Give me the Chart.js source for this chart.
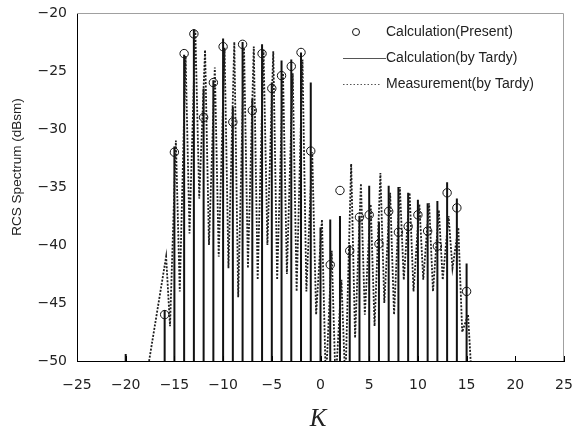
<!DOCTYPE html>
<html>
<head>
<meta charset="utf-8">
<script src="https://cdn.jsdelivr.net/npm/chart.js@4/dist/chart.umd.min.js"></script>
<style>
  html, body { margin: 0; padding: 0; background: #fff; }
  canvas { display: block; }
</style>
</head>
<body>
<canvas id="rcsChart" width="574" height="430"></canvas>
<script>
// === DATA ===
const kValues = [-16, -15, -14, -13, -12, -11, -10, -9, -8, -7, -6, -5, -4, -3, -2, -1,
                 0, 1, 2, 3, 4, 5, 6, 7, 8, 9, 10, 11, 12, 13, 14, 15];

// Calculation (Present) - circles, K = 0 lies below the axis
const presentDb = [-46.0, -32.0, -23.5, -21.8, -29.0, -26.0, -22.9, -29.4, -22.7, -28.4, -23.5, -26.5, -25.4, -24.6, -23.4, -31.9,
                   null, -41.7, -35.3, -40.5, -37.6, -37.4, -39.9, -37.1, -38.9, -38.4, -37.4, -38.8, -40.1, -35.5, -36.8, -44.0];

// Calculation (by Tardy) - solid spikes
const tardyK  = [-20, -16, -15, -14, -13, -12, -11, -10, -9, -8, -7, -6, -5, -4, -3, -2, -1,
                 0, 1, 2, 3, 4, 5, 6, 7, 8, 9, 10, 11, 12, 13, 14, 15];
const tardyDb = [-49.4, -45.6, -31.5, -23.6, -21.4, -26.5, -25.8, -22.2, -28.1, -22.5, -27.4, -22.7, -26.0, -24.1, -24.0, -23.4, -26.0,
                 -38.5, -37.8, -37.5, -40.0, -37.5, -34.9, -38.0, -34.9, -35.0, -35.5, -36.1, -36.4, -36.2, -34.6, -36.0, -41.6];

// Measurement (by Tardy) - dotted trace: a peak just right of each K, then a valley
const measStart = [-17.6, -50];
const measPeakDb   = [-41.0, -31.0, -23.7, -21.5, -23.2, -24.7, -23.0, -22.5, -23.0, -22.9, -23.2, -23.3, -25.2, -25.2, -24.0, -32.0,
                      -37.8, -40.5, -43.0, -33.0, -34.7, -36.5, -33.8, -35.5, -35.0, -35.5, -36.5, -36.4, -37.0, -37.5, -38.5, -46.0];
const measValleyDb = [-47.0, -44.0, -39.0, -36.0, -40.0, -41.0, -42.0, -44.5, -42.0, -43.0, -40.0, -43.0, -42.5, -44.0, -44.0, -46.0,
                      -52.0, -52.0, -52.0, -48.0, -46.0, -47.0, -45.0, -46.0, -43.0, -44.0, -43.0, -44.0, -43.0, -42.0, -47.5, -52.0];
const measPeakShift = 0.15;   // peak sits slightly right of K
const measValleyShift = 0.55; // valley before next rise

const xTicks = [-25, -20, -15, -10, -5, 0, 5, 10, 15, 20, 25];
const yTicks = [-50, -45, -40, -35, -30, -25, -20];

const legendLabels = ['Calculation(Present)', 'Calculation(by Tardy)', 'Measurement(by Tardy)'];

// === BUILD SERIES ===
const tardyPoints = [];
tardyK.forEach((k, i) => {
    tardyPoints.push({ x: k, y: -50 }, { x: k, y: tardyDb[i] }, { x: k, y: null });
});

const measPoints = [{ x: measStart[0], y: measStart[1] }];
kValues.forEach((k, i) => {
    measPoints.push({ x: k + measPeakShift, y: measPeakDb[i] });
    measPoints.push({ x: k + measValleyShift, y: measValleyDb[i] });
});

const presentPoints = kValues.map((k, i) => ({ x: k, y: presentDb[i] }));

const fmt = v => String(v).replace('-', '\u2212');

// frame (gray top/right), inward x ticks, axis titles, legend
const decorPlugin = {
    id: 'decor',
    afterDraw(chart) {
        const { ctx, chartArea: a, scales } = chart;
        ctx.save();
        ctx.strokeStyle = '#a0a0a0';
        ctx.lineWidth = 1;
        ctx.beginPath();
        ctx.moveTo(a.left, a.top + 0.5);
        ctx.lineTo(a.right - 0.5, a.top + 0.5);
        ctx.lineTo(a.right - 0.5, a.bottom);
        ctx.stroke();

        ctx.strokeStyle = '#000';
        xTicks.forEach(t => {
            const px = Math.round(scales.x.getPixelForValue(t)) + 0.5;
            ctx.beginPath();
            ctx.moveTo(px, a.bottom);
            ctx.lineTo(px, a.bottom - 5);
            ctx.stroke();
        });

        // y title
        ctx.fillStyle = '#222';
        ctx.font = '13.5px "Liberation Sans", Arial, sans-serif';
        ctx.textAlign = 'center';
        ctx.textBaseline = 'middle';
        ctx.translate(17, 167);
        ctx.rotate(-Math.PI / 2);
        ctx.fillText('RCS Spectrum (dBsm)', 0, 0);
        ctx.setTransform(1, 0, 0, 1, 0, 0);

        // x title
        ctx.font = 'italic 25px "Liberation Serif", "Times New Roman", serif';
        ctx.textBaseline = 'alphabetic';
        ctx.fillText('K', 318, 426);

        // legend
        ctx.font = '14px "Liberation Sans", Arial, sans-serif';
        ctx.textAlign = 'left';
        ctx.textBaseline = 'middle';
        ctx.strokeStyle = '#111';
        ctx.beginPath();
        ctx.arc(356, 32, 3.5, 0, Math.PI * 2);
        ctx.stroke();
        ctx.fillText(legendLabels[0], 386, 32);

        ctx.strokeStyle = '#555';
        ctx.beginPath();
        ctx.moveTo(343, 58.5);
        ctx.lineTo(386, 58.5);
        ctx.stroke();
        ctx.fillText(legendLabels[1], 386, 58);

        ctx.setLineDash([1.5, 2]);
        ctx.beginPath();
        ctx.moveTo(343, 84.5);
        ctx.lineTo(381, 84.5);
        ctx.stroke();
        ctx.setLineDash([]);
        ctx.fillText(legendLabels[2], 386, 84);
        ctx.restore();
    }
};

new Chart(document.getElementById('rcsChart'), {
    type: 'line',
    data: {
        datasets: [
            {
                label: legendLabels[2],
                data: measPoints,
                borderColor: '#1e1e1e',
                borderWidth: 1.8,
                borderDash: [2, 1.5],
                pointRadius: 0,
                tension: 0
            },
            {
                label: legendLabels[1],
                data: tardyPoints,
                borderColor: '#111',
                borderWidth: 2,
                pointRadius: 0,
                spanGaps: false,
                tension: 0
            },
            {
                label: legendLabels[0],
                data: presentPoints,
                showLine: false,
                pointStyle: 'circle',
                pointRadius: 4.2,
                pointBorderWidth: 1,
                pointBorderColor: '#111',
                pointBackgroundColor: 'rgba(255,255,255,0)'
            }
        ]
    },
    options: {
        responsive: false,
        animation: false,
        layout: { padding: { top: 13, right: 10, left: 0, bottom: 0 } },
        plugins: {
            legend: { display: false },
            tooltip: { enabled: false }
        },
        scales: {
            x: {
                type: 'linear',
                min: -25,
                max: 25,
                afterBuildTicks: s => { s.ticks = xTicks.map(v => ({ value: v })); },
                afterFit: s => { s.height = 69; s.paddingLeft = 0; s.paddingRight = 0; },
                grid: { display: true, drawOnChartArea: false, drawTicks: false },
                border: { color: '#000', width: 1 },
                ticks: {
                    padding: 16,
                    color: '#222',
                    font: { family: '"DejaVu Sans", sans-serif', size: 14 },
                    callback: v => fmt(v),
                    maxRotation: 0
                }
            },
            y: {
                min: -50,
                max: -20,
                afterBuildTicks: s => { s.ticks = yTicks.map(v => ({ value: v })); },
                afterFit: s => { s.width = 77; s.paddingTop = 0; s.paddingBottom = 0; },
                grid: { display: true, drawOnChartArea: false, drawTicks: false },
                border: { color: '#000', width: 1 },
                ticks: {
                    padding: 10,
                    color: '#222',
                    font: { family: '"DejaVu Sans", sans-serif', size: 14 },
                    callback: v => fmt(v)
                }
            }
        }
    },
    plugins: [decorPlugin]
});
</script>
</body>
</html>
